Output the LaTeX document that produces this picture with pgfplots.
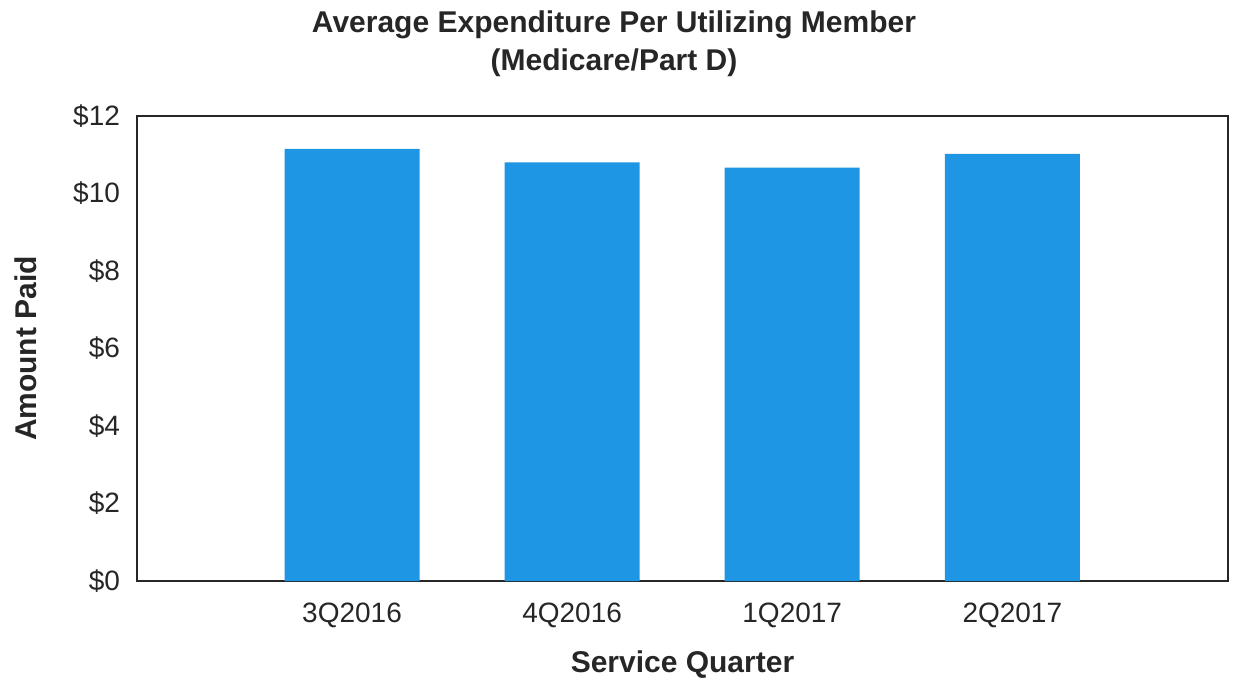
\documentclass[border=0pt]{standalone}
\usepackage{pgfplots}
\pgfplotsset{compat=1.18}
\usepackage{fontspec}
\setmainfont{Liberation Sans}
\usetikzlibrary{calc}
\definecolor{barblue}{HTML}{1E96E3}

\begin{document}
\begin{tikzpicture}
  \begin{axis}[
    name=ax,
    scale only axis,
    width=545.5pt, height=232.5pt,
    ymin=0, ymax=12,
    ytick={0,2,...,12},
    yticklabel={\$\pgfmathprintnumber{\tick}},
    xmin=-0.977, xmax=3.98,
    xtick={0,1,2,3},
    xticklabels={3Q2016,4Q2016,1Q2017,2Q2017},
    major tick length=0pt,
    tick label style={font=\fontsize{14}{16}\selectfont, text=black!85},
    /pgf/number format/assume math mode=true,
    yticklabel style={xshift=-5pt},
    xticklabel style={yshift=-7.5pt},
    axis line style={black!85, line width=0.9pt},
    xlabel={\bfseries Service Quarter},
    ylabel={\bfseries Amount Paid},
    label style={font=\fontsize{15}{18}\selectfont, text=black!85},
    xlabel style={yshift=-4.5pt},
    ylabel style={yshift=11.5pt},
  ]
    \addplot[ybar, bar width=67.5pt, fill=barblue, draw=none]
      coordinates {(0,11.15) (1,10.80) (2,10.67) (3,11.02)};
  \end{axis}
  \node[font=\bfseries\fontsize{15}{19}\selectfont, align=center, text=black!85]
    at ($(ax.north west)+(238.5pt,36pt)$)
    {Average Expenditure Per Utilizing Member\\(Medicare/Part D)};
  \pgfresetboundingbox
  \path[use as bounding box] ($(ax.south west)+(-68.5pt,-49.5pt)$) rectangle ($(ax.north east)+(3.5pt,58pt)$);
\end{tikzpicture}
\end{document}
